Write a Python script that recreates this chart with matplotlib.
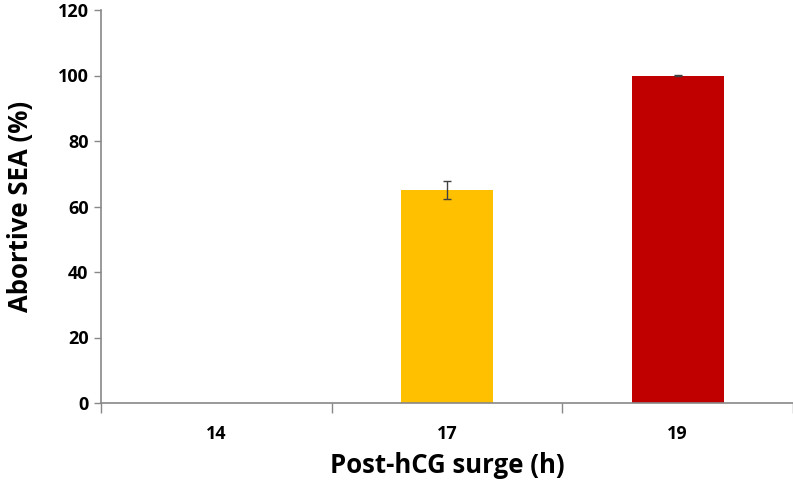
import matplotlib
matplotlib.use("Agg")
import matplotlib.pyplot as plt
import numpy as np

categories = ["14", "17", "19"]
values = [0, 65.0, 100.0]
errors = [0, 2.7, 0.3]
colors = ["#FFC000", "#FFC000", "#C00000"]
yticks = [0, 20, 40, 60, 80, 100, 120]

plt.rcParams['font.family'] = ['Open Sans', 'DejaVu Sans']

fig = plt.figure(figsize=(7.93, 4.92), dpi=100)
ax = fig.add_axes([101/793, 1 - 403/492, 1 - 101/793, (403 - 10)/492])

x = np.arange(len(categories))
ax.bar(x, values, width=0.4, color=colors, zorder=2)
ax.errorbar(x[1:], values[1:], yerr=errors[1:], fmt='none', ecolor='#404040',
            elinewidth=1, capsize=3, capthick=1, zorder=3)

ax.set_xlim(-0.5, len(categories) - 0.5)
ax.set_ylim(0, 120)
ax.set_yticks(yticks)
ax.set_yticklabels([str(v) for v in yticks], fontsize=13, fontweight='bold')
ax.set_xticks(x)
ax.set_xticklabels(categories, fontsize=13, fontweight='bold')
ax.set_xticks(np.arange(-0.5, len(categories), 1.0), minor=True)
ax.tick_params(axis='x', which='major', length=0, pad=16)
ax.tick_params(axis='x', which='minor', length=7, color='#888888', width=1)
ax.tick_params(axis='y', length=5, color='#888888', width=1, pad=4)

for s in ['top', 'right']:
    ax.spines[s].set_visible(False)
for s in ['left', 'bottom']:
    ax.spines[s].set_color('#888888')
    ax.spines[s].set_linewidth(1.2)

ax.set_ylabel("Abortive SEA (%)", fontsize=18.5, fontweight='bold', labelpad=17)
ax.set_xlabel("Post-hCG surge (h)", fontsize=18.5, fontweight='bold', labelpad=6)

fig.savefig("out.png", dpi=100)
